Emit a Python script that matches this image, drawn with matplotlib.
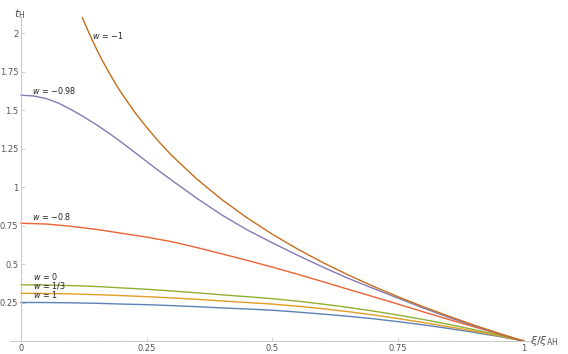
import numpy as np
import matplotlib
matplotlib.use("Agg")
import matplotlib.pyplot as plt

# values
xi = [0, 0.05, 0.1, 0.15, 0.2, 0.25, 0.3, 0.35, 0.4, 0.45, 0.5,
      0.55, 0.6, 0.65, 0.7, 0.75, 0.8, 0.85, 0.9, 0.95, 1]

t_w1 = [0.25, 0.25, 0.248, 0.245, 0.24, 0.236, 0.23, 0.223, 0.215, 0.208, 0.2,
        0.188, 0.175, 0.161, 0.145, 0.126, 0.105, 0.082, 0.057, 0.03, 0]
t_w13 = [0.31, 0.309, 0.306, 0.301, 0.295, 0.288, 0.28, 0.271, 0.26, 0.25, 0.24,
         0.226, 0.21, 0.191, 0.17, 0.146, 0.12, 0.093, 0.065, 0.034, 0]
t_w0 = [0.365, 0.364, 0.36, 0.354, 0.345, 0.336, 0.325, 0.313, 0.3, 0.288, 0.275,
        0.259, 0.24, 0.219, 0.195, 0.169, 0.14, 0.109, 0.075, 0.039, 0]
t_wm08 = [0.765, 0.76, 0.745, 0.725, 0.7, 0.675, 0.645, 0.607, 0.566, 0.524, 0.48,
          0.434, 0.386, 0.337, 0.289, 0.24, 0.19, 0.141, 0.094, 0.046, 0]

xi_wm098 = [0, 0.025, 0.05, 0.075, 0.1, 0.125, 0.15, 0.175, 0.2, 0.225, 0.25,
            0.275, 0.3, 0.35, 0.4, 0.45, 0.5, 0.55, 0.6, 0.65, 0.7, 0.75,
            0.8, 0.85, 0.9, 0.95, 1]
t_wm098 = [1.597, 1.592, 1.575, 1.545, 1.503, 1.456, 1.405, 1.35, 1.291, 1.229, 1.166,
           1.104, 1.044, 0.927, 0.818, 0.722, 0.638, 0.558, 0.481, 0.409, 0.343, 0.279,
           0.215, 0.155, 0.1, 0.049, 0]

xi_wm1 = [0.122, 0.13, 0.14, 0.15, 0.16, 0.175, 0.19, 0.2, 0.225, 0.25, 0.275,
          0.3, 0.35, 0.4, 0.45, 0.5, 0.55, 0.6, 0.65, 0.7, 0.75, 0.8, 0.85,
          0.9, 0.95, 1]
t_wm1 = [2.1, 2.04, 1.967, 1.898, 1.833, 1.744, 1.661, 1.61, 1.492, 1.388, 1.292,
         1.205, 1.052, 0.918, 0.8, 0.694, 0.598, 0.511, 0.431, 0.357, 0.288, 0.223, 0.163,
         0.105, 0.051, 0]

xticks = [0, 0.25, 0.5, 0.75, 1]
xtick_labels = ["0", "0.25", "0.5", "0.75", "1"]
yticks = [0.25, 0.5, 0.75, 1, 1.25, 1.5, 1.75, 2]
ytick_labels = ["0.25", "0.5", "0.75", "1", "1.25", "1.5", "1.75", "2"]

curves = [
    (xi, t_w1, "#5E81B5", "$w$ = 1", (0.024, 0.267)),
    (xi, t_w13, "#E19C24", "$w$ = 1/3", (0.024, 0.324)),
    (xi, t_w0, "#8FB032", "$w$ = 0", (0.024, 0.382)),
    (xi, t_wm08, "#EB6235", "$w$ = \u22120.8", (0.022, 0.77)),
    (xi_wm098, t_wm098, "#8778B3", "$w$ = \u22120.98", (0.022, 1.59)),
    (xi_wm1, t_wm1, "#C56E1A", "$w$ = \u22121", (0.142, 1.95)),
]

fig = plt.figure(figsize=(5.68, 3.54), dpi=100)
ax = fig.add_axes([10 / 568, 13 / 354, 525 / 568, 324 / 354])

for xs, ys, col, lab, pos in curves:
    ax.plot(xs, ys, color=col, lw=1.0, clip_on=False)
    ax.text(pos[0], pos[1], lab, fontsize=5.8, color="#222222",
            ha="left", va="bottom")

ax.set_xlim(-0.022, 1.023)
ax.set_ylim(0, 2.105)

for s in ["top", "right"]:
    ax.spines[s].set_visible(False)
ax.spines["left"].set_position(("data", 0))
ax.spines["bottom"].set_position(("data", 0))
for s in ["left", "bottom"]:
    ax.spines[s].set_color("#c8c8c8")
    ax.spines[s].set_linewidth(0.7)

ax.set_xticks(xticks)
ax.set_xticklabels(xtick_labels)
ax.set_yticks(yticks)
ax.set_yticklabels(ytick_labels)
ax.tick_params(direction="in", length=3, width=0.6, color="#c8c8c8",
               labelsize=6, labelcolor="#555555", pad=2)
ax.set_xticks(np.arange(0.05, 1.0, 0.05), minor=True)
ax.set_yticks(np.arange(0.05, 2.1, 0.05), minor=True)
ax.tick_params(which="minor", direction="in", length=1.5, width=0.4, color="#d8d8d8")

ax.text(1.013, 0, r"$\xi/\xi_{\rm AH}$", fontsize=8, color="#555555",
        ha="left", va="center")
fig.text(14 / 568, 1 - 14 / 354, r"$t_{\rm H}$", fontsize=8, color="#555555",
         ha="left", va="center")

fig.savefig("out.png", dpi=100)
